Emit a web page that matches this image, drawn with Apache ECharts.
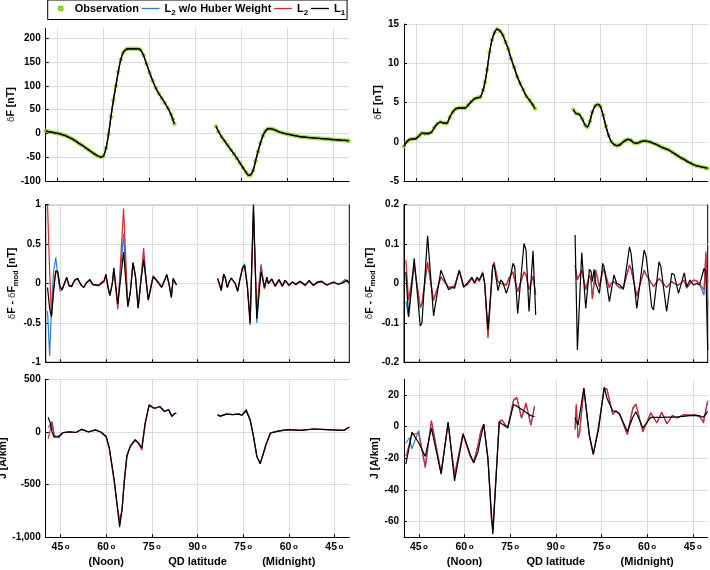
<!DOCTYPE html>
<html><head><meta charset="utf-8">
<script src="https://cdn.jsdelivr.net/npm/echarts@6/dist/echarts.min.js"></script>
<style>html,body{margin:0;padding:0;background:#fff}#c{width:710px;height:570px}</style>
</head><body><div id="c"></div><script>
// ---------- x axis ticks (track coordinate: noon 45..90, midnight 90..135) ----------
const xTickVals = [45, 60, 75, 90, 105, 120, 135];
const xTickDeg  = ['45', '60', '75', '90', '75', '60', '45'];
const xTickSub  = ['', '(Noon)', '', 'QD latitude', '', '(Midnight)', ''];

// ---------- top-left: deltaF [nT] ----------
const tlNoonLat = [41.1,42,43,44,45,46,47,48,49,50,51,52,53,54,55,56,57,58,59,59.9,60.8,61.6,62.4,63.2,64.0,64.8,65.6,66.4,67.2,68,69,70,71,72,73,74,75,76,77,78,79,80,81,82,82.6,83.1];
const tlNoonObs = [5.5,4,2.5,1,0,-1.5,-3.5,-6,-9,-12.5,-16.5,-21,-25,-29.5,-34,-38.5,-43,-47,-49.5,-48,-31,-2,35,70,100,130,155,170,176,178,178,178,178,176,165,146,128,111,96,84,74,64,53,40,30,20];
const tlMidLat = [96.7,97.5,98.5,99.5,100.5,101.5,102.5,103.5,104.5,105.5,106.5,107.3,108,108.8,109.6,110.4,111.2,112,112.8,113.6,114.4,115.4,116.4,117.4,118.4,119.4,120.5,121.5,122.5,123.5,124.5,125.5,126.5,127.5,128.5,129.5,130.5,131.5,132.5,133.5,134.5,135.5,136.5,137.5,138.5,139.5,140.0];
const tlMidObs = [15,4,-7,-16,-25,-34,-43,-52,-62,-72,-82,-88,-87,-78,-58,-38,-20,-5,5,9.5,10,8.5,6,3,1,-0.5,-2,-3.5,-4.5,-6,-7,-7.5,-8.5,-9,-9.5,-10,-10.5,-11,-11.5,-12,-12.8,-13.2,-13.8,-14.2,-14.6,-15,-15.5];
const tlYTicks = [-100,-50,0,50,100,150,200];

// ---------- top-right: deltaF [nT] ----------
const trNoonLat = [41.1,42,43,44,45,46,47,48,49,50,51,52,53,54,55,56,57,58,59,60,61,62,63,64,65,66,66.9,67.5,68.2,69,69.8,70.6,71.5,72.4,73.3,74.2,75.1,76,77,78,79,80,81,82,83,83.8];
const trNoonObs = [-0.6,0.0,0.3,0.35,0.4,0.75,1.1,1.05,1.05,1.2,1.8,2.3,2.5,2.4,2.35,3.1,3.8,4.2,4.3,4.3,4.3,4.65,5.1,5.45,5.6,5.7,6.6,7.6,9.2,11.4,13.0,13.9,14.35,14.1,13.6,12.7,11.8,10.6,9.5,8.3,7.4,6.6,5.8,5.3,4.75,4.2];
const trMidLat = [96.3,97.2,98.2,99.2,100.2,100.9,101.7,102.5,103.4,104.3,105.1,106,106.9,107.8,108.7,109.6,110.5,111.4,112.3,113.2,114.1,115,115.9,116.8,117.7,118.6,119.5,120.4,121.4,122.4,123.4,124.4,125.4,126.4,127.4,128.4,129.4,130.4,131.4,132.4,133.4,134.4,135.4,136.4,137.4,138.4,139.3,140.0];
const trMidObs = [4.1,3.6,3.5,2.9,2.1,1.9,2.6,3.8,4.55,4.75,4.5,3.4,2.0,0.8,0.0,-0.35,-0.5,-0.4,-0.1,0.15,0.3,0.2,-0.1,-0.2,-0.1,0.05,0.1,0.05,-0.05,-0.2,-0.35,-0.55,-0.75,-0.9,-1.05,-1.3,-1.55,-1.8,-2.05,-2.25,-2.5,-2.7,-2.9,-3.05,-3.15,-3.25,-3.3,-3.4];
const trYTicks = [-5,0,5,10,15];

// ---------- middle-left: residual [nT] ----------
const mlNoonLat = [40.7,41.4,42.0,42.7,43.4,44.1,44.8,45.5,46.2,47.0,47.8,48.6,49.6,50.6,51.6,52.6,53.5,54.6,55.6,56.6,57.6,58.5,59.3,59.9,60.6,61.2,62.0,62.5,63.1,63.8,65.7,67.1,67.9,68.8,69.6,70.5,71.4,72.3,73.1,73.8,74.6,75.4,76.3,77.2,78.2,79.2,79.9,80.6,81.4,82.0,82.6,83.1];
const mlNoonBlue  = [-0.35,-0.92,-0.3,0.15,0.33,0.1,-0.1,-0.08,0.0,0.07,-0.03,-0.04,0.04,0.06,-0.01,-0.05,0.01,0.05,-0.01,-0.02,-0.02,0.01,0.03,0.11,-0.05,-0.15,0.0,0.19,-0.03,-0.28,0.63,-0.28,-0.11,0.26,0.09,-0.3,0.04,0.35,0.04,-0.21,-0.06,0.09,0.05,0.01,-0.05,0.04,0.11,0.0,-0.17,0.06,0.04,-0.02];
const mlNoonRed   = [1.0,0.15,-0.42,-0.05,0.15,0.12,-0.05,-0.07,0.0,0.07,-0.03,-0.03,0.04,0.06,-0.02,-0.05,0.01,0.04,-0.02,-0.02,-0.03,0.02,0.02,0.1,-0.06,-0.15,0.0,0.17,-0.05,-0.33,0.95,-0.3,-0.1,0.27,0.1,-0.32,0.05,0.45,0.05,-0.2,-0.05,0.1,0.06,0.02,-0.04,0.04,0.12,0.0,-0.15,0.06,0.05,-0.02];
const mlNoonBlack = [-0.05,-0.32,-0.42,-0.1,0.16,0.15,-0.04,-0.08,-0.01,0.08,-0.03,-0.04,0.04,0.065,-0.01,-0.05,0.01,0.05,-0.01,-0.02,-0.02,0.0,0.04,0.12,-0.05,-0.15,0.0,0.2,-0.02,-0.26,0.4,-0.29,-0.12,0.26,0.09,-0.31,0.04,0.3,0.04,-0.21,-0.07,0.08,0.05,0.0,-0.05,0.04,0.11,0.0,-0.18,0.065,0.04,-0.02];
const mlMidLat = [96.6,97.1,97.8,98.6,99.1,99.8,100.4,101.1,101.7,102.4,103.2,103.9,104.8,105.5,106.4,107.3,108.4,109.5,110.2,110.9,111.5,112.0,112.8,113.3,114.4,115.5,116.8,117.9,118.8,120.1,121.2,122.3,123.7,125.4,126.7,128.1,129.5,130.8,132.5,134.7,136.3,137.5,138.5,139.2,139.9];
const mlMidBlue  = [0.06,0.01,-0.09,0.12,0.08,-0.05,0.02,0.07,0.07,0.0,-0.1,0.05,0.21,0.25,-0.02,-0.45,0.95,-0.5,-0.1,0.25,0.06,-0.06,0.08,0.0,0.05,-0.03,0.05,-0.03,0.04,-0.02,0.02,-0.01,0.03,-0.02,0.03,-0.02,0.02,0.02,-0.02,0.02,-0.01,0.02,0.05,0.04,0.0];
const mlMidRed   = [0.06,0.0,-0.08,0.11,0.07,-0.05,0.02,0.06,0.07,0.0,-0.09,0.05,0.2,0.2,-0.03,-0.53,0.9,-0.42,0.0,0.22,0.05,-0.07,0.07,0.0,0.05,-0.04,0.04,-0.04,0.04,-0.03,0.02,-0.02,0.02,-0.03,0.03,-0.03,0.01,0.02,-0.02,0.01,-0.01,0.01,0.02,0.03,0.0];
const mlMidBlack = [0.065,0.01,-0.09,0.12,0.08,-0.05,0.02,0.07,0.08,0.0,-0.1,0.04,0.19,0.23,-0.05,-0.5,1.0,-0.45,-0.15,0.15,0.05,-0.05,0.08,0.0,0.06,-0.03,0.05,-0.03,0.04,-0.02,0.02,-0.01,0.03,-0.02,0.04,-0.02,0.02,0.03,-0.02,0.02,-0.01,0.0,0.03,0.04,0.0];
const mlYTicks = [-1,-0.5,0,0.5,1];

// ---------- middle-right: residual [nT] ----------
const mrNoonLat = [40.72,41.6,43.46,44.1,45.44,45.99,47.85,49.82,50.37,52.24,52.79,54.76,55.86,56.73,58.27,59.69,60.79,62.43,63.31,64.08,64.85,65.94,66.6,67.7,69.23,69.67,70.99,71.86,72.63,73.73,74.5,75.92,76.47,77.46,77.79,79.54,80.2,81.18,82.5,83.38];
const mrNoonBlue  = [-0.045,-0.085,0.045,0.043,-0.062,-0.052,0.052,-0.043,-0.038,0.016,0.015,-0.01,-0.009,-0.006,0.032,-0.006,-0.004,0.013,0.0,0.013,0.006,0.03,0.002,-0.13,0.042,0.052,0.004,0.0,-0.001,-0.004,0.012,0.028,0.008,-0.02,-0.016,0.028,0.021,-0.015,0.018,-0.028];
const mrNoonRed   = [0.06,-0.042,0.047,0.043,-0.059,-0.051,0.055,-0.042,-0.038,0.017,0.016,-0.01,-0.008,-0.006,0.033,-0.006,-0.004,0.013,0.0,0.013,0.005,0.027,0.0,-0.139,0.043,0.055,0.005,0.0,-0.001,-0.004,0.013,0.03,0.009,-0.021,-0.016,0.03,0.022,-0.016,0.019,-0.029];
const mrNoonBlack = [0.03,-0.084,0.064,0.066,-0.108,-0.101,0.121,-0.082,-0.084,0.034,0.03,-0.016,-0.01,-0.012,0.034,-0.01,0.0,0.016,0.002,0.016,0.009,0.026,0.002,-0.118,0.043,0.049,-0.018,0.009,0.002,-0.025,-0.006,0.051,0.043,-0.076,-0.077,0.102,0.085,-0.071,0.083,-0.08];
const mrMidLat = [96.32,97.08,98.5,99.82,101.03,101.58,102.0,102.57,103.1,104.3,105.4,105.8,107.6,108.0,109.1,110.0,111.1,112.2,114.2,114.7,116.6,119.0,119.7,121.5,122.1,123.9,124.5,126.4,128.1,128.9,130.3,132.2,133.0,134.1,135.2,136.3,137.2,138.7,139.3,139.9];
const mrMidBlue  = [0.045,0.01,0.033,-0.015,0.021,0.009,-0.038,0.001,0.033,-0.008,0.029,0.037,-0.011,0.0,0.005,-0.004,-0.011,-0.01,0.045,0.037,-0.031,0.033,0.021,0.0,-0.008,0.012,0.012,-0.01,0.005,0.0,-0.004,0.008,-0.011,0.0,0.008,0.006,-0.002,-0.03,0.075,-0.055];
const mrMidRed   = [0.047,0.009,0.034,-0.016,0.022,0.009,-0.04,0.0,0.034,-0.008,0.03,0.038,-0.012,0.0,0.005,-0.004,-0.012,-0.01,0.047,0.038,-0.033,0.034,0.022,0.0,-0.008,0.013,0.013,-0.01,0.005,0.0,-0.004,0.009,-0.012,0.0,0.009,0.007,0.0,-0.016,0.081,-0.059];
const mrMidBlack = [0.123,-0.169,0.078,-0.063,0.036,0.03,0.005,0.036,0.0,-0.025,0.051,0.044,-0.046,-0.042,0.022,0.0,-0.004,-0.015,0.093,0.077,-0.063,0.085,0.068,-0.059,-0.067,0.055,0.043,-0.071,0.026,0.022,-0.025,0.027,-0.008,0.009,-0.004,0.0,-0.004,0.038,0.03,-0.169];
const mrYTicks = [-0.2,-0.1,0,0.1,0.2];

// ---------- bottom-left: J [A/km] ----------
const blNoonLat = [40.9,41.6,42.2,42.9,44.4,45.8,48.0,50.0,52.0,54.2,56.4,58.2,60.0,61.0,61.8,62.6,63.5,64.4,65.2,65.9,66.8,67.9,69.5,70.6,71.7,72.8,74.1,75.7,76.6,77.6,79.1,80.5,81.6,82.4,83.0];
const blNoonBlue  = [38,70,100,-30,-57,-5,0,-5,25,0,20,0,-45,-155,-305,-460,-675,-880,-735,-478,-225,-135,-75,-106,-160,82,255,226,230,242,195,211,148,173,179];
const blNoonRed   = [-63,20,85,-40,-50,-8,0,-5,25,0,20,0,-50,-160,-310,-470,-680,-840,-740,-470,-220,-140,-80,-110,-170,80,250,226,230,242,195,211,148,173,179];
const blNoonBlack = [140,85,0,-50,-40,-5,0,-5,25,0,20,0,-41,-150,-300,-450,-670,-905,-733,-481,-230,-135,-72,-104,-151,85,258,226,230,242,195,211,148,173,179];
const blMidLat = [96.6,97.5,99.5,101.5,103.5,104.6,106.0,107.3,108.4,109.5,110.6,111.7,112.5,114.0,116.2,119.5,123.8,128.2,132.6,138.1,139.9];
const blMidBlue  = [165,150,170,166,170,160,215,118,-38,-228,-298,-200,-120,-10,6,22,15,28,22,15,47];
const blMidRed   = [160,148,172,165,172,158,200,112,-45,-235,-300,-198,-118,-8,8,22,16,28,22,15,45];
const blMidBlack = [163,150,170,165,170,160,204,115,-40,-230,-302,-200,-120,-10,6,22,15,28,22,15,47];
const blYTicks = [-1000,-500,0,500];

// ---------- bottom-right: J [A/km] ----------
const brNoonLat = [40.7,41.9,42.7,44.9,47.1,49.1,52.3,54.6,56.7,59.5,60.2,61.9,63.0,64.4,65.3,66.3,67.7,68.8,69.3,71.4,72.3,74.2,76.1,77.2,78.7,80.2,81.8,83.0];
const brNoonBlue  = [-10.5,-7,-14,-2.5,-25,3.5,-29,2.5,-31,-4.5,-9,-18.5,-22,-12,-3,1.5,-20,-57,-65,3,4,-1,16.5,18,5.5,14.5,1,12.5];
const brNoonRed   = [-18.8,-10.5,-5,-4,-26,3.8,-29.4,2.3,-30.5,-4,-9.3,-19,-22.4,-12,-3,1.7,-20,-58,-66,3.4,4.4,-0.8,17,18.5,5.5,15,0.8,13];
const brNoonBlack = [-23.7,-12,-3.4,-10,-18.8,-0.8,-30,3,-34.3,-5,-8,-17.8,-23,-16,-7,1.7,-21,-54,-68,3,1.7,-0.5,14,13,11,9,7,6.3];
const brMidLat = [96.3,96.7,97.3,97.8,99.2,101.0,102.3,104.0,105.9,106.8,108.7,109.8,110.9,113.5,115.3,116.3,118.6,121.2,123.2,124.8,126.5,128.3,129.8,131.9,134.1,135.8,137.4,138.5,139.9];
const brMidBlue  = [-1,13,-7,-4,24,-5.5,-17,-0.5,24,23.5,8,10,8.5,-5,11.5,14,-3,8.5,2.5,9,2,7,5.5,7.5,7.3,7.5,6,3,16.5];
const brMidRed   = [-2,14.4,-7.2,-4,24.5,-6,-17.8,0,24.5,24,7.6,10,8,-5,11.9,14.4,-3.4,9,2.3,9.3,1.7,7.2,5.5,7.6,7.3,7.5,6.5,2.3,16];
const brMidBlack = [5.9,3.5,1,0.2,24.5,-5,-17.4,-2,25,18,10,9.7,8,-3,6,9.5,-0.8,5.9,5.9,5.9,6,6,6.2,6.5,7,7.2,6.8,6,9.7];
const brYTicks = [-60,-40,-20,0,20];

// ---------- styling ----------
const FONT = '"Liberation Sans", Arial, Helvetica, sans-serif';
const BLUE = '#2a7ccc', RED = '#d42a2f', BLACK = '#000000';
const GRIDC = '#dcdcdc';

function pairs(lat, val) { return lat.map((x, i) => [x, val[i]]); }
function track(nLat, nVal, mLat, mVal) { return pairs(nLat, nVal).concat([[90, '-']], pairs(mLat, mVal)); }

const grids = [
  {left: 45.7, top: 28.3, width: 303.3, height: 152.7},
  {left: 404, top: 24, width: 303.7, height: 157},
  {left: 45.7, top: 204.7, width: 303.6, height: 157.6, show: true, borderColor: '#000', borderWidth: 1, backgroundColor: 'transparent'},
  {left: 404, top: 204.7, width: 303.7, height: 157.6, show: true, borderColor: '#000', borderWidth: 1, backgroundColor: 'transparent'},
  {left: 45.7, top: 379.3, width: 303.6, height: 158},
  {left: 404, top: 379.3, width: 303.7, height: 158}
].map(g => Object.assign({containLabel: false, outerBoundsMode: 'none'}, g));

const xRanges = [[41.1, 140.1], [41.1, 140.1], [40.1, 139.9], [40.1, 139.9], [40.1, 139.9], [40.1, 139.9]];

const xLabelRich = {
  n: {fontFamily: FONT, fontSize: 10.5, fontWeight: 'bold', color: '#000', lineHeight: 15},
  o: {fontFamily: FONT, fontSize: 8, fontWeight: 'bold', color: '#000', padding: [0, 0, 0, 1.5]},
  t: {fontFamily: FONT, fontSize: 11, fontWeight: 'bold', color: '#000', lineHeight: 16}
};

const xAxes = xRanges.map((r, i) => ({
  type: 'value', gridIndex: i, min: r[0], max: r[1],
  axisLine: {show: true, onZero: false, lineStyle: {color: '#000', width: 1}},
  axisTick: {show: true, inside: true, length: 3, customValues: xTickVals, lineStyle: {color: '#000', width: 1}},
  splitLine: {show: true, lineStyle: {color: GRIDC, width: 1}},
  axisLabel: {
    show: i >= 4, customValues: xTickVals, margin: 2,
    formatter: v => {
      const k = xTickVals.indexOf(Math.round(v));
      if (k < 0) return '';
      return '{n|' + xTickDeg[k] + '}{o|o}' + (xTickSub[k] ? '\n{t|' + xTickSub[k] + '}' : '');
    },
    rich: xLabelRich
  }
}));

const nameRich = {
  g: {fontFamily: '"DejaVu Sans", sans-serif', fontSize: 9, fontWeight: 'normal', color: '#444'},
  b: {fontFamily: FONT, fontSize: 10.5, fontWeight: 'bold', color: '#000', lineHeight: 14},
  s: {fontFamily: FONT, fontSize: 7.5, fontWeight: 'bold', color: '#000', verticalAlign: 'bottom', lineHeight: 6}
};
const nameDF = '{g|δ}{b|F [nT]}';
const nameRes = '{g|δ}{b|F - }{g|δ}{b|F}{s|mod}{b| [nT]}';
const nameJ = '{b|J [A/km]}';

const yDefs = [
  {min: -100, max: 221, ticks: tlYTicks, name: nameDF, gap: 25},
  {min: -5, max: 15, ticks: trYTicks, name: nameDF, gap: 17},
  {min: -1, max: 1, ticks: mlYTicks, name: nameRes, gap: 22},
  {min: -0.2, max: 0.2, ticks: mrYTicks, name: nameRes, gap: 27},
  {min: -1000, max: 500, ticks: blYTicks, name: nameJ, gap: 29},
  {min: -70, max: 30, ticks: brYTicks, name: nameJ, gap: 18}
];
const yAxes = yDefs.map((d, i) => ({
  type: 'value', gridIndex: i, min: d.min, max: d.max,
  name: d.name, nameLocation: 'middle', nameGap: d.gap,
  nameTextStyle: {rich: nameRich},
  axisLine: {show: true, onZero: false, lineStyle: {color: '#000', width: 1}},
  axisTick: {show: true, inside: true, length: 3, customValues: d.ticks, lineStyle: {color: '#000', width: 1}},
  splitLine: {show: true, lineStyle: {color: GRIDC, width: 1}},
  axisLabel: {show: true, customValues: d.ticks, margin: 5, fontFamily: FONT, fontSize: 10, fontWeight: 'bold', color: '#000'}
}));

function lineSeries(name, color, idx, data, width) {
  return {
    type: 'line', name, xAxisIndex: idx, yAxisIndex: idx, data, z: 3,
    symbol: 'none', showSymbol: false, connectNulls: false,
    lineStyle: {color, width: width || 1.2}, itemStyle: {color},
    emphasis: {disabled: true}, silent: true
  };
}
function obsSeries(idx, data) {
  return {
    type: 'line', name: 'Observation', xAxisIndex: idx, yAxisIndex: idx, data, z: 1,
    symbol: 'circle', symbolSize: 3.6, showSymbol: true, showAllSymbol: true, connectNulls: false,
    lineStyle: {width: 0, opacity: 0},
    itemStyle: {color: '#a8f040', borderColor: '#78d21e', borderWidth: 0.8},
    emphasis: {disabled: true}, silent: true
  };
}

const tlData = track(tlNoonLat, tlNoonObs, tlMidLat, tlMidObs);
const trData = track(trNoonLat, trNoonObs, trMidLat, trMidObs);

const series = [
  obsSeries(0, tlData),
  lineSeries('L2 w/o Huber Weight', BLUE, 0, tlData, 1.3),
  lineSeries('L2', RED, 0, tlData, 1.3),
  lineSeries('L1', BLACK, 0, tlData, 1.3),
  obsSeries(1, trData),
  lineSeries('L2 w/o Huber Weight', BLUE, 1, trData, 1.3),
  lineSeries('L2', RED, 1, trData, 1.3),
  lineSeries('L1', BLACK, 1, trData, 1.3),
  lineSeries('L2 w/o Huber Weight', BLUE, 2, track(mlNoonLat, mlNoonBlue, mlMidLat, mlMidBlue)),
  lineSeries('L2', RED, 2, track(mlNoonLat, mlNoonRed, mlMidLat, mlMidRed)),
  lineSeries('L1', BLACK, 2, track(mlNoonLat, mlNoonBlack, mlMidLat, mlMidBlack)),
  lineSeries('L2 w/o Huber Weight', BLUE, 3, track(mrNoonLat, mrNoonBlue, mrMidLat, mrMidBlue)),
  lineSeries('L2', RED, 3, track(mrNoonLat, mrNoonRed, mrMidLat, mrMidRed)),
  lineSeries('L1', BLACK, 3, track(mrNoonLat, mrNoonBlack, mrMidLat, mrMidBlack)),
  lineSeries('L2 w/o Huber Weight', BLUE, 4, track(blNoonLat, blNoonBlue, blMidLat, blMidBlue)),
  lineSeries('L2', RED, 4, track(blNoonLat, blNoonRed, blMidLat, blMidRed)),
  lineSeries('L1', BLACK, 4, track(blNoonLat, blNoonBlack, blMidLat, blMidBlack)),
  lineSeries('L2 w/o Huber Weight', BLUE, 5, track(brNoonLat, brNoonBlue, brMidLat, brMidBlue)),
  lineSeries('L2', RED, 5, track(brNoonLat, brNoonRed, brMidLat, brMidRed)),
  lineSeries('L1', BLACK, 5, track(brNoonLat, brNoonBlack, brMidLat, brMidBlack))
];
// smooth the dense observation-fit curves in the top row
series.forEach((s, i) => { if (i < 8 && s.name !== 'Observation') s.smooth = 0.3; });

const legendText = {
  'Observation': '{n|Observation}',
  'L2 w/o Huber Weight': '{n|L}{s|2}{n| w/o Huber Weight}',
  'L2': '{n|L}{s|2}',
  'L1': '{n|L}{s|1}'
};
const noMarker = {color: 'rgba(0,0,0,0)', borderColor: 'rgba(0,0,0,0)', borderWidth: 0};

const option = {
  animation: false,
  backgroundColor: '#fff',
  textStyle: {fontFamily: FONT},
  legend: {
    left: 47.7, top: 0, orient: 'horizontal',
    data: [
      {name: 'Observation'},
      {name: 'L2 w/o Huber Weight', itemStyle: noMarker, lineStyle: {color: BLUE, width: 1.3}},
      {name: 'L2', itemStyle: noMarker, lineStyle: {color: RED, width: 1.3}},
      {name: 'L1', itemStyle: noMarker, lineStyle: {color: BLACK, width: 1.3}}
    ],
    itemWidth: 18, itemHeight: 5, itemGap: 2,
    padding: [3, 2, 3, 4],
    borderColor: '#000', borderWidth: 1, backgroundColor: '#fff',
    selectedMode: false,
    formatter: name => legendText[name],
    textStyle: {
      fontFamily: FONT, fontSize: 11, fontWeight: 'bold', color: '#000',
      rich: {
        n: {fontFamily: FONT, fontSize: 11, fontWeight: 'bold', color: '#000', lineHeight: 16},
        s: {fontFamily: FONT, fontSize: 8, fontWeight: 'bold', color: '#000', verticalAlign: 'bottom', lineHeight: 7}
      }
    }
  },
  grid: grids,
  xAxis: xAxes,
  yAxis: yAxes,
  series
};

const chart = echarts.init(document.getElementById('c'), null, {renderer: 'canvas', width: 710, height: 570});
chart.setOption(option);
</script></body></html>
